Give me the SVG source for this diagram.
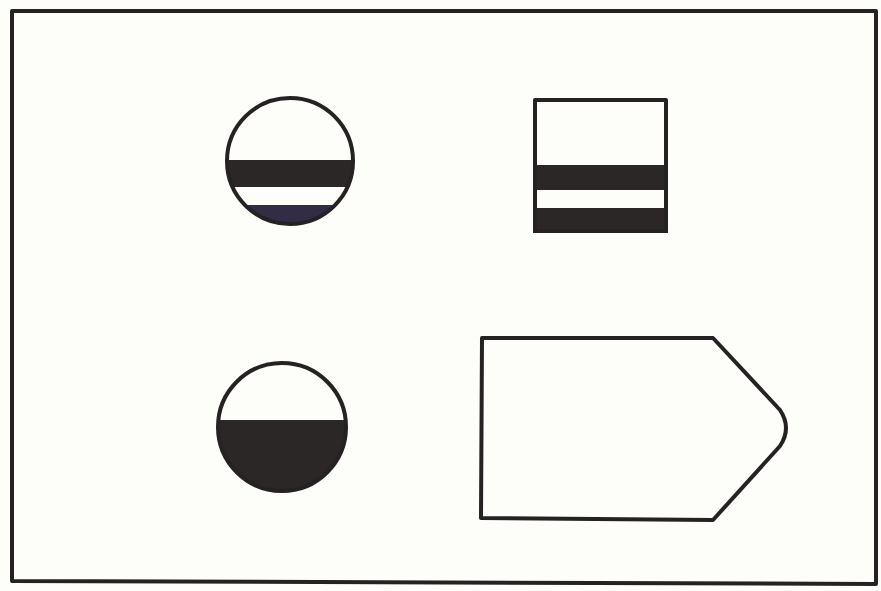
<svg xmlns="http://www.w3.org/2000/svg" width="881" height="591" viewBox="0 0 881 591">
<style>
.ln{fill:none;stroke:#262224;stroke-width:4;stroke-linejoin:round}
.dk{fill:#2b2727}
</style>
<defs>
<clipPath id="c1"><circle cx="290" cy="161" r="63"/></clipPath>
<clipPath id="c2"><circle cx="282" cy="427" r="64"/></clipPath>
</defs>
<rect width="881" height="591" fill="#fdfdf9"/>
<g id="frame"><path class="ln" d="M12,11 L876,11 L876,584 L12,581 Z" stroke-width="3.5"/></g>
<g id="circle-stripes">
<g clip-path="url(#c1)">
<rect class="dk" x="220" y="160" width="140" height="27"/>
<rect x="220" y="205" width="140" height="25" fill="#332c45"/>
</g>
<circle class="ln" cx="290" cy="161" r="63"/>
</g>
<g id="square-stripes">
<rect class="dk" x="533" y="165" width="135" height="25"/>
<rect class="dk" x="533" y="208" width="135" height="25"/>
<rect class="ln" x="535" y="100" width="131" height="131"/>
</g>
<g id="circle-half">
<g clip-path="url(#c2)">
<rect class="dk" x="210" y="420" width="150" height="80"/>
</g>
<circle class="ln" cx="282" cy="427" r="64"/>
</g>
<g id="pentagon">
<path class="ln" d="M482,338 L713,338 L780,410 Q792,428 780,446 L713,520 L481,518 Z"/>
</g>
</svg>
